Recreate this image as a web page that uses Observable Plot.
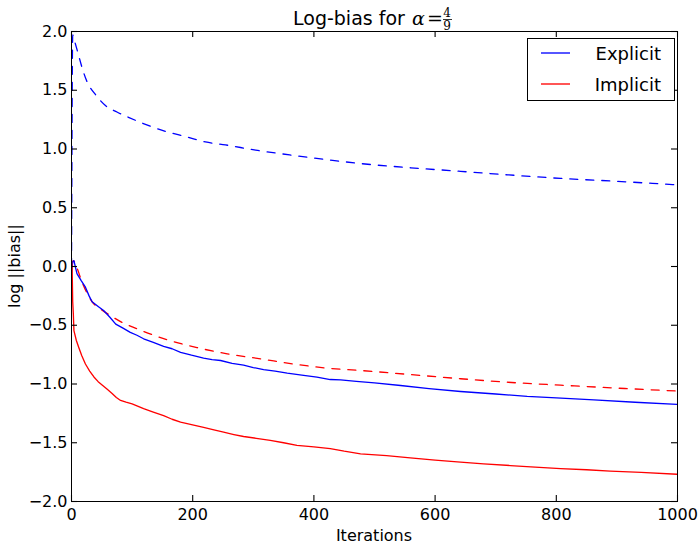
<!DOCTYPE html>
<html>
<head>
<meta charset="utf-8">
<script src="https://cdn.jsdelivr.net/npm/d3@7"></script>
<script src="https://cdn.jsdelivr.net/npm/@observablehq/plot@0.6"></script>
<style>
  html, body { margin: 0; padding: 0; background: #fff; }
  #chart { width: 700px; height: 544px; }
  svg { font-family: "DejaVu Sans", sans-serif; }
</style>
</head>
<body>
<div id="chart"></div>
<script>
// ---- data ----
const xTicks = [0, 200, 400, 600, 800, 1000];
const yTicks = [-2.0, -1.5, -1.0, -0.5, 0.0, 0.5, 1.0, 1.5, 2.0];

const explicitDashed = [
  [0, 0.0], [2, 1.97], [5, 1.92], [10, 1.83], [17, 1.70], [25, 1.58], [40, 1.46],
  [56, 1.37], [75, 1.315], [94, 1.27], [122, 1.21], [155, 1.15], [188, 1.106],
  [221, 1.06], [254, 1.035], [304, 0.99], [360, 0.95], [420, 0.91], [477, 0.876],
  [560, 0.84], [642, 0.81], [720, 0.78], [807, 0.75], [900, 0.725], [1000, 0.695]
];
const implicitDashed = [
  [0, 0.0], [3, 0.05], [8, 0.0], [18, -0.14], [34, -0.30], [50, -0.37], [64, -0.417],
  [85, -0.48], [108, -0.53], [158, -0.624], [207, -0.69], [257, -0.743], [312, -0.786],
  [372, -0.834], [422, -0.865], [477, -0.885], [560, -0.92], [642, -0.955], [720, -0.985],
  [807, -1.01], [900, -1.035], [1000, -1.06]
];
const explicitSolid = [
  [0, -0.05], [2, 0.04], [4, 0.05], [9, -0.06], [16, -0.12], [23, -0.176], [29, -0.25],
  [34, -0.30], [44, -0.34], [53, -0.375], [63, -0.43], [73, -0.49], [85, -0.525],
  [97, -0.56], [108, -0.585], [119, -0.615], [135, -0.645], [152, -0.68], [166, -0.70],
  [180, -0.73], [198, -0.755], [218, -0.78], [232, -0.792], [246, -0.80], [265, -0.825],
  [284, -0.84], [300, -0.86], [317, -0.877], [336, -0.89], [356, -0.908], [380, -0.925],
  [405, -0.942], [427, -0.962], [444, -0.965], [470, -0.978], [500, -0.99], [543, -1.013],
  [590, -1.04], [642, -1.064], [700, -1.085], [752, -1.106], [800, -1.118], [862, -1.135],
  [930, -1.155], [1000, -1.174]
];
const implicitSolid = [
  [0, 0.05], [1, 0.0], [2, -0.3], [3, -0.4], [4, -0.545], [8, -0.63], [12, -0.69],
  [17, -0.76], [23, -0.83], [30, -0.89], [37, -0.94], [44, -0.98], [51, -1.01],
  [59, -1.045], [67, -1.08], [74, -1.115], [81, -1.14], [90, -1.155], [100, -1.17],
  [110, -1.19], [119, -1.21], [135, -1.24], [152, -1.27], [166, -1.30], [180, -1.325],
  [198, -1.345], [218, -1.37], [235, -1.39], [251, -1.41], [268, -1.43], [284, -1.447],
  [305, -1.462], [328, -1.48], [350, -1.50], [372, -1.523], [400, -1.535], [427, -1.55],
  [450, -1.572], [477, -1.594], [520, -1.61], [559, -1.628], [600, -1.648], [642, -1.665],
  [680, -1.68], [724, -1.694], [765, -1.708], [807, -1.72], [850, -1.73], [889, -1.742],
  [940, -1.752], [1000, -1.768]
];

const legendItems = [
  { label: "Explicit", color: "#0000ff" },
  { label: "Implicit", color: "#ff0000" }
];

const fmtY = d => (d < 0 ? "\u2212" : "") + Math.abs(d).toFixed(1);

const W = 700, H = 544, mL = 71, mR = 23, mT = 31, mB = 43;
const fw = W - mL - mR, fh = H - mT - mB, tk = 6;
const xDom = [0, 1000], yDom = [-2, 2];
const tkX = (xDom[1] - xDom[0]) * tk / fw;  // tick length in x units
const tkY = (yDom[1] - yDom[0]) * tk / fh;  // tick length in y units

const lineOpts = (color, dashed) => ({
  x: d => d[0], y: d => d[1], stroke: color, strokeWidth: 1.33,
  strokeDasharray: dashed ? "8,8" : null, clip: true,
  curve: dashed ? "monotone-x" : "linear"
});

const tickStyle = { stroke: "#000", strokeWidth: 1.1 };

const svg = Plot.plot({
  width: W,
  height: H,
  marginLeft: mL,
  marginRight: mR,
  marginTop: mT,
  marginBottom: mB,
  style: { fontFamily: "DejaVu Sans, sans-serif", background: "#fff", color: "#000" },
  x: { domain: xDom },
  y: { domain: yDom },
  marks: [
    Plot.line(explicitDashed, lineOpts(legendItems[0].color, true)),
    Plot.line(implicitDashed, lineOpts(legendItems[1].color, true)),
    Plot.line(explicitSolid, lineOpts(legendItems[0].color, false)),
    Plot.line(implicitSolid, lineOpts(legendItems[1].color, false)),
    // tick labels
    Plot.axisX({ ticks: xTicks, tickSize: 0, tickPadding: 7, fontSize: 16, label: null, tickFormat: d => String(d) }),
    Plot.axisY({ ticks: yTicks, tickSize: 0, tickPadding: 4, fontSize: 16, label: null, tickFormat: fmtY }),
    // inward tick marks on all four sides
    Plot.ruleX(xTicks, { x: d => d, y1: yDom[0], y2: yDom[0] + tkY, ...tickStyle }),
    Plot.ruleX(xTicks, { x: d => d, y1: yDom[1], y2: yDom[1] - tkY, ...tickStyle }),
    Plot.ruleY(yTicks, { y: d => d, x1: xDom[0], x2: xDom[0] + tkX, ...tickStyle }),
    Plot.ruleY(yTicks, { y: d => d, x1: xDom[1], x2: xDom[1] - tkX, ...tickStyle }),
    Plot.frame({ stroke: "#000", strokeWidth: 1 })
  ]
});

document.getElementById("chart").appendChild(svg);

// ---- annotations: title, axis labels, legend ----
const s = d3.select(svg);
const cx = mL + fw / 2;
const cy = mT + fh / 2;

// title "Log-bias for α = 4/9"
const tg = s.append("g").attr("transform", `translate(${cx - 81},25)`).attr("text-anchor", "start");
tg.append("text").attr("x", 0).attr("font-size", 19).attr("fill", "#000")
  .attr("font-family", "DejaVu Sans, sans-serif").text("Log-bias for");
tg.append("text").attr("x", 119).attr("font-size", 19).attr("font-style", "italic")
  .attr("font-family", "DejaVu Serif, serif").attr("fill", "#000").text("\u03b1");
tg.append("text").attr("x", 134).attr("font-size", 19)
  .attr("font-family", "DejaVu Serif, serif").attr("fill", "#000").text("=");
tg.append("text").attr("x", 154).attr("y", -8).attr("font-size", 12).attr("text-anchor", "middle")
  .attr("font-family", "DejaVu Serif, serif").attr("fill", "#000").text("4");
tg.append("line").attr("x1", 150).attr("x2", 159).attr("y1", -5.5).attr("y2", -5.5)
  .attr("stroke", "#000").attr("stroke-width", 0.8);
tg.append("text").attr("x", 154).attr("y", 5).attr("font-size", 12).attr("text-anchor", "middle")
  .attr("font-family", "DejaVu Serif, serif").attr("fill", "#000").text("9");

// x label
s.append("text").attr("x", cx).attr("y", 541).attr("text-anchor", "middle")
  .attr("font-size", 16).attr("fill", "#000").text("Iterations");
// y label
s.append("text").attr("transform", `translate(20,${cy}) rotate(-90)`).attr("text-anchor", "middle")
  .attr("font-size", 16).attr("fill", "#000").text("log ||bias||");

// legend
const lg = s.append("g").attr("transform", `translate(527,38)`);
lg.append("rect").attr("x", 0.5).attr("y", 0.5).attr("width", 147).attr("height", 62)
  .attr("fill", "#fff").attr("stroke", "#000").attr("stroke-width", 1);
legendItems.forEach((it, i) => {
  const yy = 15 + i * 31;
  lg.append("line").attr("x1", 14).attr("x2", 43).attr("y1", yy).attr("y2", yy)
    .attr("stroke", it.color).attr("stroke-width", 1.33);
  lg.append("text").attr("x", 134).attr("y", yy + 6.5).attr("text-anchor", "end")
    .attr("font-size", 18).attr("fill", "#000").text(it.label);
});
</script>
</body>
</html>
